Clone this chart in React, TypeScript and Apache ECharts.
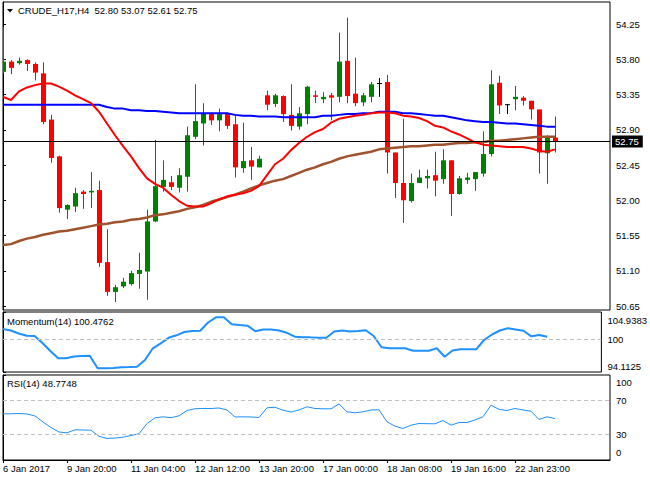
import React, { useEffect, useRef } from "react";
import * as echarts from "echarts";

const FONT = "'Liberation Sans', Arial, sans-serif";

const xTickLabels = ["6 Jan 2017", "9 Jan 20:00", "11 Jan 04:00", "12 Jan 12:00", "13 Jan 20:00", "17 Jan 00:00", "18 Jan 08:00", "19 Jan 16:00", "22 Jan 23:00"];
const xTickBars = [0, 8, 16, 24, 32, 40, 48, 56, 64];

const opens = [53.64, 53.77, 53.75, 53.79, 53.74, 53.62, 53.03, 52.56, 51.88, 51.92,
  52.11, 52.10, 52.13, 51.21, 50.83, 50.90, 50.93, 51.06, 51.09, 51.73,
  52.17, 52.23, 52.16, 52.30, 52.81, 52.98, 53.10, 53.02, 53.10, 52.97,
  52.41, 52.51, 52.42, 53.34, 53.23, 53.33, 53.09, 52.94, 53.10, 53.34,
  53.29, 53.34, 53.32, 53.78, 53.36, 53.25, 53.32, 53.49, 53.51, 52.61,
  52.22, 51.99, 52.22, 52.28, 52.32, 52.27, 52.51, 52.08, 52.26, 52.27,
  52.34, 52.59, 53.50, 53.22, 53.29, 53.31, 53.27, 53.16, 52.60, 52.80];
const highs = [54.21, 53.79, 53.82, 53.80, 53.76, 53.76, 53.09, 52.57, 51.95, 52.16,
  52.13, 52.36, 52.25, 51.63, 50.92, 51.01, 51.10, 51.33, 51.88, 52.77,
  52.51, 52.31, 52.41, 52.94, 53.48, 53.24, 53.12, 53.17, 53.12, 53.09,
  52.99, 52.68, 52.57, 53.40, 53.36, 53.34, 53.48, 53.19, 53.46, 53.40,
  53.38, 53.37, 54.14, 54.33, 53.82, 53.37, 53.51, 53.56, 53.60, 52.61,
  53.04, 52.34, 52.39, 52.39, 52.62, 52.65, 52.51, 52.31, 52.35, 52.36,
  52.88, 53.66, 53.59, 53.23, 53.46, 53.33, 53.27, 53.16, 52.83, 53.07];
const lows = [53.62, 53.61, 53.73, 53.65, 53.53, 52.97, 52.48, 51.84, 51.76, 51.85,
  51.89, 51.90, 51.15, 50.78, 50.70, 50.88, 50.91, 50.87, 50.73, 51.72,
  52.11, 52.13, 52.10, 52.11, 52.78, 52.70, 52.96, 52.88, 52.91, 52.29,
  52.35, 52.26, 52.42, 53.15, 53.19, 53.00, 52.89, 52.90, 52.97, 53.24,
  53.24, 53.02, 53.25, 53.24, 53.20, 53.20, 53.25, 53.32, 52.34, 52.03,
  51.71, 51.97, 52.22, 52.15, 52.05, 52.21, 51.80, 52.07, 52.21, 52.12,
  52.30, 52.56, 53.10, 53.10, 53.15, 53.21, 53.03, 52.34, 52.21, 52.61];
const closes = [53.77, 53.69, 53.78, 53.74, 53.63, 53.00, 52.54, 51.90, 51.94, 52.09,
  52.08, 52.12, 51.20, 50.83, 50.89, 50.96, 51.07, 51.11, 51.73, 52.18,
  52.26, 52.17, 52.32, 52.83, 53.01, 53.11, 53.02, 53.10, 52.95, 52.42,
  52.50, 52.43, 52.53, 53.22, 53.34, 53.10, 52.95, 53.11, 53.45, 53.32,
  53.32, 53.31, 53.77, 53.33, 53.24, 53.34, 53.48, 53.49, 52.61, 52.22,
  52.00, 52.22, 52.29, 52.31, 52.25, 52.51, 52.08, 52.28, 52.29, 52.36,
  52.59, 53.48, 53.21, 53.22, 53.32, 53.27, 53.16, 52.61, 52.82, 52.75];

const maFast = [53.32, 53.28, 53.39, 53.44, 53.47, 53.49, 53.49, 53.45, 53.40, 53.34,
  53.29, 53.24, 53.13, 52.98, 52.83, 52.69, 52.56, 52.41, 52.28, 52.21,
  52.16, 52.07, 51.99, 51.93, 51.92, 51.92, 51.96, 52.01, 52.05, 52.07,
  52.09, 52.12, 52.18, 52.32, 52.46, 52.53, 52.64, 52.73, 52.81, 52.87,
  52.91, 52.99, 53.04, 53.06, 53.08, 53.09, 53.11, 53.12, 53.12, 53.11,
  53.08, 53.07, 53.05, 53.01, 52.95, 52.93, 52.88, 52.84, 52.79, 52.74,
  52.71, 52.70, 52.69, 52.68, 52.68, 52.68, 52.66, 52.63, 52.62, 52.65];
const maMid = [53.22, 53.22, 53.22, 53.22, 53.22, 53.22, 53.22, 53.22, 53.22, 53.22,
  53.22, 53.22, 53.22, 53.19, 53.17, 53.17, 53.15, 53.15, 53.14, 53.14,
  53.13, 53.12, 53.11, 53.11, 53.11, 53.11, 53.11, 53.11, 53.11, 53.09,
  53.08, 53.08, 53.07, 53.07, 53.07, 53.06, 53.06, 53.06, 53.06, 53.06,
  53.08, 53.08, 53.09, 53.10, 53.10, 53.11, 53.11, 53.13, 53.13, 53.13,
  53.11, 53.11, 53.10, 53.09, 53.08, 53.08, 53.06, 53.04, 53.02, 53.01,
  53.00, 53.00, 52.99, 52.98, 52.98, 52.97, 52.96, 52.95, 52.94, 52.94];
const maSlow = [51.43, 51.44, 51.48, 51.51, 51.53, 51.56, 51.58, 51.60, 51.61, 51.63,
  51.65, 51.67, 51.69, 51.70, 51.72, 51.73, 51.75, 51.76, 51.78, 51.81,
  51.82, 51.84, 51.86, 51.89, 51.91, 51.94, 51.98, 52.01, 52.04, 52.07,
  52.11, 52.15, 52.19, 52.22, 52.25, 52.27, 52.31, 52.35, 52.39, 52.42,
  52.46, 52.49, 52.53, 52.56, 52.58, 52.60, 52.62, 52.65, 52.66, 52.67,
  52.68, 52.69, 52.69, 52.70, 52.71, 52.71, 52.72, 52.73, 52.73, 52.74,
  52.74, 52.76, 52.76, 52.77, 52.78, 52.79, 52.80, 52.81, 52.81, 52.81];

const momentum = [101.87, 101.60, 101.06, 100.64, 100.61, 99.35, 97.90, 96.58, 96.58, 96.91,
  97.00, 97.05, 94.78, 94.78, 94.83, 94.96, 95.01, 95.07, 96.28, 98.39,
  99.29, 100.28, 100.73, 101.33, 101.51, 101.56, 103.04, 103.98, 103.98, 102.72,
  102.59, 102.47, 101.47, 101.78, 101.78, 101.60, 101.19, 100.48, 100.39, 100.36,
  100.30, 100.30, 101.42, 101.60, 101.44, 101.51, 101.64, 100.61, 98.57, 98.39,
  98.39, 98.39, 97.96, 97.96, 97.96, 98.39, 96.87, 97.99, 98.21, 98.21,
  98.21, 99.89, 100.88, 101.60, 102.00, 101.78, 101.55, 100.55, 100.79, 100.4762];
const rsi = [54.35, 54.35, 54.71, 54.12, 51.76, 44.71, 38.24, 32.94, 32.00, 35.53,
  35.29, 35.06, 27.88, 25.29, 25.88, 26.82, 28.82, 30.82, 42.94, 49.65,
  50.82, 49.76, 52.00, 58.24, 60.35, 60.59, 60.59, 61.18, 58.82, 50.59,
  50.82, 50.59, 50.00, 61.41, 62.00, 58.59, 56.47, 58.82, 62.59, 60.59,
  60.24, 60.24, 65.88, 56.71, 55.53, 56.71, 58.82, 59.06, 44.94, 39.76,
  37.06, 40.94, 42.94, 42.71, 42.59, 46.47, 40.94, 44.12, 44.12, 47.06,
  50.82, 64.47, 59.65, 58.24, 60.59, 58.82, 57.41, 47.65, 50.82, 48.7748];

const priceTicks = [50.65, 51.10, 51.55, 52.00, 52.45, 52.90, 53.35, 53.80, 54.25];
const momentumTicks = [94.1125, 100, 104.9383];
const rsiTicks = [0, 30, 70, 100];
const rsiLevels = [70, 30];
const momentumLevel = 100;
const lastPrice = 52.75;
const headline = "CRUDE_H17,H4  52.80 53.07 52.61 52.75";
const momentumTitle = "Momentum(14) 100.4762";
const rsiTitle = "RSI(14) 48.7748";

export default function App() {
  const ref = useRef<HTMLDivElement>(null);
  useEffect(() => {
    if (!ref.current) return;
    const chart = echarts.init(ref.current, null, { renderer: "svg" });
    const candleData = opens.map((o, i) => [i, o, highs[i], lows[i], closes[i]]);
    const pairs = (arr: number[]) => arr.map((v, i) => [i, v]);
    const xMin = 0;
    const xMax = 75.875;
    const text = { fontFamily: FONT, fontSize: 9.5, color: "#000" };
    const dash = { color: "#c0c0c0", type: [4, 3], width: 1 };

    const xAxisBase = (g: number) => ({
      gridIndex: g,
      type: "value",
      min: xMin,
      max: xMax,
      show: g === 2,
      axisLine: { show: true, lineStyle: { color: "#000" } },
      axisTick: { show: true, customValues: xTickBars, length: 3, lineStyle: { color: "#000" } },
      axisLabel: {
        show: true,
        customValues: xTickBars,
        align: "left",
        margin: 3,
        ...text,
        formatter: (v: number) => {
          const k = xTickBars.indexOf(Math.round(v));
          return k >= 0 ? xTickLabels[k] : "";
        },
      },
      splitLine: { show: false },
    });

    const yAxisBase = (g: number, min: number, max: number, ticks: number[], fmt: (v: number) => string, padTop: number, padBottom: number) => ({
      gridIndex: g,
      type: "value",
      position: "right",
      min,
      max,
      axisLine: { show: true, lineStyle: { color: "#000" } },
      axisTick: { show: true, customValues: ticks, length: 3, lineStyle: { color: "#000" } },
      axisLabel: {
        customValues: ticks,
        margin: 6,
        ...text,
        formatter: (v: number) => {
          const s = fmt(v);
          if (Math.abs(v - max) < 1e-6) return "{t|" + s + "}";
          if (Math.abs(v - min) < 1e-6) return "{b|" + s + "}";
          return s;
        },
        rich: {
          t: { ...text, padding: [padTop, 0, 0, 0] },
          b: { ...text, padding: [0, 0, padBottom, 0] },
        },
      },
      splitLine: { show: false },
    });

    const option: any = {
      animation: false,
      backgroundColor: "#fff",
      title: [
        { text: headline, left: 18, top: 5, padding: 0, textStyle: { ...text, fontWeight: "normal" } },
        { text: momentumTitle, left: 7, top: 316, padding: 0, textStyle: { ...text, fontWeight: "normal" } },
        { text: rsiTitle, left: 7, top: 378, padding: 0, textStyle: { ...text, fontWeight: "normal" } },
      ],
      graphic: [
        { type: "polygon", shape: { points: [[7, 9], [13, 9], [10, 12.5]] }, style: { fill: "#000" } },
      ],
      grid: [
        { left: 3, top: 2, width: 607, height: 308, show: true, borderColor: "#000", borderWidth: 1, backgroundColor: "#fff" },
        { left: 3, top: 312, width: 607, height: 60, show: true, borderColor: "#000", borderWidth: 1, backgroundColor: "#fff" },
        { left: 3, top: 375, width: 607, height: 85, show: true, borderColor: "#000", borderWidth: 1, backgroundColor: "#fff" },
      ],
      xAxis: [xAxisBase(0), xAxisBase(1), xAxisBase(2)],
      yAxis: [
        yAxisBase(0, 50.599, 54.531, priceTicks, (v) => v.toFixed(2), 0, 0),
        yAxisBase(1, 94.1125, 104.9383, momentumTicks, (v) => (Math.abs(v - 100) < 1e-6 ? "100" : v.toFixed(4)), 16, 12),
        yAxisBase(2, 0, 100, rsiTicks, (v) => String(Math.round(v)), 15, 15),
      ],
      series: [
        {
          type: "custom",
          xAxisIndex: 0,
          yAxisIndex: 0,
          clip: true,
          z: 2,
          encode: { x: 0, y: [1, 2, 3, 4] },
          data: candleData,
          renderItem: (params: any, api: any) => {
            const i = api.value(0);
            const o = api.value(1);
            const h = api.value(2);
            const l = api.value(3);
            const c = api.value(4);
            const pO = api.coord([i, o]);
            const x = Math.round(pO[0]) + 0.5;
            const yO = pO[1];
            const yC = api.coord([i, c])[1];
            const yH = api.coord([i, h])[1];
            const yL = api.coord([i, l])[1];
            const color = c > o ? "#008000" : c < o ? "#ff0000" : "#000000";
            const bw = 5;
            const top = Math.min(yO, yC);
            const bot = Math.max(yO, yC);
            const children: any[] = [
              { type: "line", shape: { x1: x, y1: yH, x2: x, y2: yL }, style: { stroke: color, lineWidth: 1 } },
            ];
            if (c === o) {
              children.push({ type: "line", shape: { x1: x - bw / 2, y1: yO, x2: x + bw / 2, y2: yO }, style: { stroke: color, lineWidth: 1 } });
            } else {
              children.push({ type: "rect", shape: { x: x - bw / 2, y: top, width: bw, height: Math.max(1, bot - top) }, style: { fill: color } });
            }
            return { type: "group", children };
          },
        },
        {
          type: "line", xAxisIndex: 0, yAxisIndex: 0, data: pairs(maSlow), showSymbol: false, z: 3,
          lineStyle: { color: "#a0522d", width: 2.5 },
        },
        {
          type: "line", xAxisIndex: 0, yAxisIndex: 0, data: pairs(maMid), showSymbol: false, z: 3,
          lineStyle: { color: "#0000ff", width: 2 },
        },
        {
          type: "line", xAxisIndex: 0, yAxisIndex: 0, data: pairs(maFast), showSymbol: false, z: 4,
          lineStyle: { color: "#ff0000", width: 2 },
          markLine: {
            silent: true,
            symbol: ["none", "none"],
            lineStyle: { color: "#000", type: "solid", width: 1 },
            label: {
              show: true,
              position: "end",
              distance: 2,
              formatter: lastPrice.toFixed(2),
              backgroundColor: "#000",
              padding: [1, 4, 1, 3],
              ...text,
              color: "#fff",
            },
            data: [{ yAxis: lastPrice }],
          },
        },
        {
          type: "line", xAxisIndex: 1, yAxisIndex: 1, data: pairs(momentum), showSymbol: false, z: 3,
          lineStyle: { color: "#1e90ff", width: 2 },
          markLine: {
            silent: true, symbol: ["none", "none"], label: { show: false },
            lineStyle: dash, data: [{ yAxis: momentumLevel }],
          },
        },
        {
          type: "line", xAxisIndex: 2, yAxisIndex: 2, data: pairs(rsi), showSymbol: false, z: 3,
          lineStyle: { color: "#1e90ff", width: 1 },
          markLine: {
            silent: true, symbol: ["none", "none"], label: { show: false },
            lineStyle: dash, data: rsiLevels.map((v) => ({ yAxis: v })),
          },
        },
      ],
    };
    chart.setOption(option);
    return () => chart.dispose();
  }, []);
  return <div ref={ref} style={{ position: "fixed", left: 0, top: 0, width: 650, height: 480, background: "#fff" }} />;
}
